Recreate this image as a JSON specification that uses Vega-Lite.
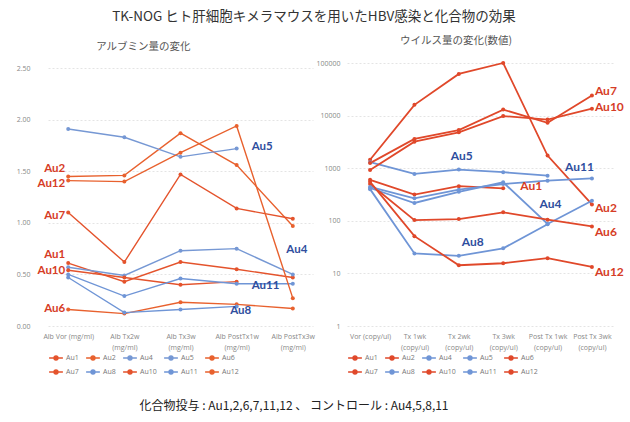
{
  "$schema": "https://vega.github.io/schema/vega-lite/v6.json",
  "background": "white",
  "padding": {"left": 16, "top": 10, "right": 4, "bottom": 2},
  "title": {"text": "TK-NOG ヒト肝細胞キメラマウスを用いたHBV感染と化合物の効果", "font": "Noto Sans CJK JP", "fontSize": 13.5, "fontWeight": "normal", "color": "#333333", "anchor": "middle", "offset": 12, "dx": -6},
  "config": {
    "view": {"stroke": null},
    "font": "Noto Sans CJK JP",
    "axis": {"labelFont": "Open Sans", "labelFontSize": 7, "labelColor": "#888888", "ticks": false, "domain": false, "title": null},
    "axisY": {"grid": true, "gridColor": "#e4e4e4", "gridDash": [2, 2], "labelPadding": 18},
    "axisX": {"grid": false, "labelAngle": 0, "labelPadding": 6, "labelLineHeight": 11},
    "legend": {"orient": "bottom", "direction": "horizontal", "columns": 5, "title": null, "labelFont": "Open Sans", "labelFontSize": 7, "labelColor": "#777777", "labelOffset": 2, "symbolType": "M-1,0L1,0M-0.28,0a0.28,0.28 0 1,0 0.56,0a0.28,0.28 0 1,0 -0.56,0", "symbolSize": 190, "symbolStrokeWidth": 1.5, "columnPadding": 4, "rowPadding": 1, "offset": 0}
  },
  "datasets": {
    "alb": [
      {"m": "Au1", "t": "Alb Vor (mg/ml)", "v": 0.61}, {"m": "Au1", "t": "Alb Tx2w (mg/ml)", "v": 0.43}, {"m": "Au1", "t": "Alb Tx3w (mg/ml)", "v": 0.62}, {"m": "Au1", "t": "Alb PostTx1w (mg/ml)", "v": 0.55}, {"m": "Au1", "t": "Alb PostTx3w (mg/ml)", "v": 0.47},
      {"m": "Au2", "t": "Alb Vor (mg/ml)", "v": 1.45}, {"m": "Au2", "t": "Alb Tx2w (mg/ml)", "v": 1.46}, {"m": "Au2", "t": "Alb Tx3w (mg/ml)", "v": 1.87}, {"m": "Au2", "t": "Alb PostTx1w (mg/ml)", "v": 1.56}, {"m": "Au2", "t": "Alb PostTx3w (mg/ml)", "v": 0.97},
      {"m": "Au4", "t": "Alb Vor (mg/ml)", "v": 0.57}, {"m": "Au4", "t": "Alb Tx2w (mg/ml)", "v": 0.49}, {"m": "Au4", "t": "Alb Tx3w (mg/ml)", "v": 0.73}, {"m": "Au4", "t": "Alb PostTx1w (mg/ml)", "v": 0.75}, {"m": "Au4", "t": "Alb PostTx3w (mg/ml)", "v": 0.50},
      {"m": "Au5", "t": "Alb Vor (mg/ml)", "v": 1.91}, {"m": "Au5", "t": "Alb Tx2w (mg/ml)", "v": 1.83}, {"m": "Au5", "t": "Alb Tx3w (mg/ml)", "v": 1.64}, {"m": "Au5", "t": "Alb PostTx1w (mg/ml)", "v": 1.72},
      {"m": "Au6", "t": "Alb Vor (mg/ml)", "v": 0.16}, {"m": "Au6", "t": "Alb Tx2w (mg/ml)", "v": 0.12}, {"m": "Au6", "t": "Alb Tx3w (mg/ml)", "v": 0.23}, {"m": "Au6", "t": "Alb PostTx1w (mg/ml)", "v": 0.21}, {"m": "Au6", "t": "Alb PostTx3w (mg/ml)", "v": 0.17},
      {"m": "Au7", "t": "Alb Vor (mg/ml)", "v": 1.10}, {"m": "Au7", "t": "Alb Tx2w (mg/ml)", "v": 0.62}, {"m": "Au7", "t": "Alb Tx3w (mg/ml)", "v": 1.47}, {"m": "Au7", "t": "Alb PostTx1w (mg/ml)", "v": 1.14}, {"m": "Au7", "t": "Alb PostTx3w (mg/ml)", "v": 1.04},
      {"m": "Au8", "t": "Alb Vor (mg/ml)", "v": 0.47}, {"m": "Au8", "t": "Alb Tx2w (mg/ml)", "v": 0.13}, {"m": "Au8", "t": "Alb Tx3w (mg/ml)", "v": 0.16}, {"m": "Au8", "t": "Alb PostTx1w (mg/ml)", "v": 0.19},
      {"m": "Au10", "t": "Alb Vor (mg/ml)", "v": 0.54}, {"m": "Au10", "t": "Alb Tx2w (mg/ml)", "v": 0.47}, {"m": "Au10", "t": "Alb Tx3w (mg/ml)", "v": 0.40}, {"m": "Au10", "t": "Alb PostTx1w (mg/ml)", "v": 0.43},
      {"m": "Au11", "t": "Alb Vor (mg/ml)", "v": 0.50}, {"m": "Au11", "t": "Alb Tx2w (mg/ml)", "v": 0.29}, {"m": "Au11", "t": "Alb Tx3w (mg/ml)", "v": 0.46}, {"m": "Au11", "t": "Alb PostTx1w (mg/ml)", "v": 0.41}, {"m": "Au11", "t": "Alb PostTx3w (mg/ml)", "v": 0.41},
      {"m": "Au12", "t": "Alb Vor (mg/ml)", "v": 1.41}, {"m": "Au12", "t": "Alb Tx2w (mg/ml)", "v": 1.40}, {"m": "Au12", "t": "Alb Tx3w (mg/ml)", "v": 1.68}, {"m": "Au12", "t": "Alb PostTx1w (mg/ml)", "v": 1.94}, {"m": "Au12", "t": "Alb PostTx3w (mg/ml)", "v": 0.27}
    ],
    "hbv": [
      {"m": "Au1", "t": "Vor (copy/ul)", "v": 600}, {"m": "Au1", "t": "Tx 1wk (copy/ul)", "v": 315}, {"m": "Au1", "t": "Tx 2wk (copy/ul)", "v": 455}, {"m": "Au1", "t": "Tx 3wk (copy/ul)", "v": 415},
      {"m": "Au2", "t": "Vor (copy/ul)", "v": 1450}, {"m": "Au2", "t": "Tx 1wk (copy/ul)", "v": 16000}, {"m": "Au2", "t": "Tx 2wk (copy/ul)", "v": 62000}, {"m": "Au2", "t": "Tx 3wk (copy/ul)", "v": 100000}, {"m": "Au2", "t": "Post Tx 1wk (copy/ul)", "v": 1740}, {"m": "Au2", "t": "Post Tx 3wk (copy/ul)", "v": 205},
      {"m": "Au4", "t": "Vor (copy/ul)", "v": 420}, {"m": "Au4", "t": "Tx 1wk (copy/ul)", "v": 218}, {"m": "Au4", "t": "Tx 2wk (copy/ul)", "v": 355}, {"m": "Au4", "t": "Tx 3wk (copy/ul)", "v": 540}, {"m": "Au4", "t": "Post Tx 1wk (copy/ul)", "v": 87}, {"m": "Au4", "t": "Post Tx 3wk (copy/ul)", "v": 240},
      {"m": "Au5", "t": "Vor (copy/ul)", "v": 1300}, {"m": "Au5", "t": "Tx 1wk (copy/ul)", "v": 780}, {"m": "Au5", "t": "Tx 2wk (copy/ul)", "v": 940}, {"m": "Au5", "t": "Tx 3wk (copy/ul)", "v": 840}, {"m": "Au5", "t": "Post Tx 1wk (copy/ul)", "v": 720},
      {"m": "Au6", "t": "Vor (copy/ul)", "v": 500}, {"m": "Au6", "t": "Tx 1wk (copy/ul)", "v": 103}, {"m": "Au6", "t": "Tx 2wk (copy/ul)", "v": 108}, {"m": "Au6", "t": "Tx 3wk (copy/ul)", "v": 145}, {"m": "Au6", "t": "Post Tx 1wk (copy/ul)", "v": 105}, {"m": "Au6", "t": "Post Tx 3wk (copy/ul)", "v": 78},
      {"m": "Au7", "t": "Vor (copy/ul)", "v": 1250}, {"m": "Au7", "t": "Tx 1wk (copy/ul)", "v": 3600}, {"m": "Au7", "t": "Tx 2wk (copy/ul)", "v": 5300}, {"m": "Au7", "t": "Tx 3wk (copy/ul)", "v": 13000}, {"m": "Au7", "t": "Post Tx 1wk (copy/ul)", "v": 7300}, {"m": "Au7", "t": "Post Tx 3wk (copy/ul)", "v": 24000},
      {"m": "Au8", "t": "Vor (copy/ul)", "v": 400}, {"m": "Au8", "t": "Tx 1wk (copy/ul)", "v": 24}, {"m": "Au8", "t": "Tx 2wk (copy/ul)", "v": 21.6}, {"m": "Au8", "t": "Tx 3wk (copy/ul)", "v": 30}, {"m": "Au8", "t": "Post Tx 1wk (copy/ul)", "v": 86},
      {"m": "Au10", "t": "Vor (copy/ul)", "v": 920}, {"m": "Au10", "t": "Tx 1wk (copy/ul)", "v": 3200}, {"m": "Au10", "t": "Tx 2wk (copy/ul)", "v": 4800}, {"m": "Au10", "t": "Tx 3wk (copy/ul)", "v": 9800}, {"m": "Au10", "t": "Post Tx 1wk (copy/ul)", "v": 8400}, {"m": "Au10", "t": "Post Tx 3wk (copy/ul)", "v": 13500},
      {"m": "Au11", "t": "Vor (copy/ul)", "v": 440}, {"m": "Au11", "t": "Tx 1wk (copy/ul)", "v": 268}, {"m": "Au11", "t": "Tx 2wk (copy/ul)", "v": 390}, {"m": "Au11", "t": "Tx 3wk (copy/ul)", "v": 500}, {"m": "Au11", "t": "Post Tx 1wk (copy/ul)", "v": 580}, {"m": "Au11", "t": "Post Tx 3wk (copy/ul)", "v": 640},
      {"m": "Au12", "t": "Vor (copy/ul)", "v": 550}, {"m": "Au12", "t": "Tx 1wk (copy/ul)", "v": 51}, {"m": "Au12", "t": "Tx 2wk (copy/ul)", "v": 14.3}, {"m": "Au12", "t": "Tx 3wk (copy/ul)", "v": 15.6}, {"m": "Au12", "t": "Post Tx 1wk (copy/ul)", "v": 19.5}, {"m": "Au12", "t": "Post Tx 3wk (copy/ul)", "v": 13.3}
    ],
    "albLabels": [
      {"m": "Au2", "t": "Alb Vor (mg/ml)", "v": 1.52},
      {"m": "Au12", "t": "Alb Vor (mg/ml)", "v": 1.38},
      {"m": "Au7", "t": "Alb Vor (mg/ml)", "v": 1.07},
      {"m": "Au1", "t": "Alb Vor (mg/ml)", "v": 0.69},
      {"m": "Au10", "t": "Alb Vor (mg/ml)", "v": 0.53},
      {"m": "Au6", "t": "Alb Vor (mg/ml)", "v": 0.16},
      {"m": "Au5", "t": "Alb PostTx1w (mg/ml)", "v": 1.74},
      {"m": "Au11", "t": "Alb PostTx1w (mg/ml)", "v": 0.39},
      {"m": "Au8", "t": "Alb PostTx1w (mg/ml)", "v": 0.15},
      {"m": "Au4", "t": "Alb PostTx3w (mg/ml)", "v": 0.74}
    ],
    "hbvLabels": [
      {"m": "Au7", "t": "Post Tx 3wk (copy/ul)", "v": 29500},
      {"m": "Au10", "t": "Post Tx 3wk (copy/ul)", "v": 14500},
      {"m": "Au2", "t": "Post Tx 3wk (copy/ul)", "v": 175},
      {"m": "Au6", "t": "Post Tx 3wk (copy/ul)", "v": 61},
      {"m": "Au12", "t": "Post Tx 3wk (copy/ul)", "v": 10.7},
      {"m": "Au1", "t": "Tx 3wk (copy/ul)", "v": 465},
      {"m": "Au5", "t": "Tx 2wk (copy/ul)", "v": 1740},
      {"m": "Au8", "t": "Tx 2wk (copy/ul)", "v": 40},
      {"m": "Au4", "t": "Post Tx 1wk (copy/ul)", "v": 208},
      {"m": "Au11", "t": "Post Tx 3wk (copy/ul)", "v": 1050}
    ],
    "note": [{"text": "化合物投与 : Au1,2,6,7,11,12 、 コントロール : Au4,5,8,11"}]
  },
  "vconcat": [
    {
      "hconcat": [
        {
          "width": 265,
          "height": 263,
          "title": {"text": "アルブミン量の変化", "anchor": "start", "dx": 80, "fontSize": 10.5, "fontWeight": "normal", "color": "#555555", "offset": 11},
          "encoding": {
            "x": {"field": "t", "type": "nominal", "scale": {"type": "point", "padding": 0.36, "domain": ["Alb Vor (mg/ml)", "Alb Tx2w (mg/ml)", "Alb Tx3w (mg/ml)", "Alb PostTx1w (mg/ml)", "Alb PostTx3w (mg/ml)"]},
              "axis": {"labelExpr": "datum.value == 'Alb Vor (mg/ml)' ? datum.value : [slice(datum.value, 0, indexof(datum.value, ' (')), slice(datum.value, indexof(datum.value, ' (') + 1)]"}},
            "y": {"field": "v", "type": "quantitative", "scale": {"domain": [0, 2.55], "nice": false, "zero": true}, "axis": {"values": [0, 0.5, 1, 1.5, 2, 2.5], "format": ".2f"}}
          },
          "layer": [
            {"data": {"name": "alb"}, "mark": {"type": "line", "strokeWidth": 1.4},
              "encoding": {"color": {"field": "m", "type": "nominal", "scale": {"domain": ["Au1", "Au2", "Au4", "Au5", "Au6", "Au7", "Au8", "Au10", "Au11", "Au12"], "range": ["#e4532c", "#e8612e", "#7698d4", "#7698d4", "#e8612e", "#e4532c", "#6f95d6", "#e4532c", "#6f95d6", "#e8612e"]}}}},
            {"data": {"name": "alb"}, "mark": {"type": "point", "filled": true, "size": 16, "opacity": 1},
              "encoding": {"color": {"field": "m", "type": "nominal"}}},
            {"data": {"name": "albLabels"}, "transform": [{"filter": "indexof(['Au1','Au2','Au6','Au7','Au10','Au12'], datum.m) >= 0"}],
              "mark": {"type": "text", "align": "right", "dx": -3, "font": "Lato", "fontWeight": "bold", "fontSize": 11.5, "color": "#d63c26"},
              "encoding": {"text": {"field": "m"}}},
            {"data": {"name": "albLabels"}, "transform": [{"filter": "datum.m == 'Au5' || datum.m == 'Au11'"}],
              "mark": {"type": "text", "align": "left", "dx": 15, "font": "Lato", "fontWeight": "bold", "fontSize": 11.5, "color": "#2f4e9e"},
              "encoding": {"text": {"field": "m"}}},
            {"data": {"name": "albLabels"}, "transform": [{"filter": "datum.m == 'Au8' || datum.m == 'Au4'"}],
              "mark": {"type": "text", "align": "center", "dx": 4, "font": "Lato", "fontWeight": "bold", "fontSize": 11.5, "color": "#2f4e9e"},
              "encoding": {"text": {"field": "m"}}}
          ]
        },
        {
          "width": 268,
          "height": 263,
          "title": {"text": "ウイルス量の変化(数値)", "anchor": "start", "dx": 84, "fontSize": 10.5, "fontWeight": "normal", "color": "#555555", "offset": 13},
          "encoding": {
            "x": {"field": "t", "type": "nominal", "scale": {"type": "point", "padding": 0.52, "domain": ["Vor (copy/ul)", "Tx 1wk (copy/ul)", "Tx 2wk (copy/ul)", "Tx 3wk (copy/ul)", "Post Tx 1wk (copy/ul)", "Post Tx 3wk (copy/ul)"]},
              "axis": {"labelExpr": "datum.value == 'Vor (copy/ul)' ? datum.value : [slice(datum.value, 0, indexof(datum.value, ' (')), slice(datum.value, indexof(datum.value, ' (') + 1)]"}},
            "y": {"field": "v", "type": "quantitative", "scale": {"type": "log", "domain": [1, 100000], "nice": false}, "axis": {"values": [1, 10, 100, 1000, 10000, 100000], "format": "d", "labelPadding": 7}}
          },
          "layer": [
            {"data": {"name": "hbv"}, "mark": {"type": "line", "strokeWidth": 1.8},
              "encoding": {"color": {"field": "m", "type": "nominal", "scale": {"domain": ["Au1", "Au2", "Au4", "Au5", "Au6", "Au7", "Au8", "Au10", "Au11", "Au12"], "range": ["#e0482a", "#e0482a", "#6f95d6", "#6f95d6", "#e0482a", "#e0482a", "#6f95d6", "#e0482a", "#6f95d6", "#e0482a"]}}}},
            {"data": {"name": "hbv"}, "mark": {"type": "point", "filled": true, "size": 16, "opacity": 1},
              "encoding": {"color": {"field": "m", "type": "nominal"}}},
            {"data": {"name": "hbvLabels"}, "transform": [{"filter": "indexof(['Au7','Au10','Au2','Au6','Au12'], datum.m) >= 0"}],
              "mark": {"type": "text", "align": "left", "dx": 3, "font": "Lato", "fontWeight": "bold", "fontSize": 12, "color": "#d63c26"},
              "encoding": {"text": {"field": "m"}}},
            {"data": {"name": "hbvLabels"}, "transform": [{"filter": "datum.m == 'Au1'"}],
              "mark": {"type": "text", "align": "left", "dx": 17, "font": "Lato", "fontWeight": "bold", "fontSize": 12, "color": "#d63c26"},
              "encoding": {"text": {"field": "m"}}},
            {"data": {"name": "hbvLabels"}, "transform": [{"filter": "datum.m == 'Au5' || datum.m == 'Au4'"}],
              "mark": {"type": "text", "align": "center", "dx": 3, "font": "Lato", "fontWeight": "bold", "fontSize": 12, "color": "#2f4e9e"},
              "encoding": {"text": {"field": "m"}}},
            {"data": {"name": "hbvLabels"}, "transform": [{"filter": "datum.m == 'Au8'"}],
              "mark": {"type": "text", "align": "center", "dx": 14, "font": "Lato", "fontWeight": "bold", "fontSize": 12, "color": "#2f4e9e"},
              "encoding": {"text": {"field": "m"}}},
            {"data": {"name": "hbvLabels"}, "transform": [{"filter": "datum.m == 'Au11'"}],
              "mark": {"type": "text", "align": "right", "dx": 2, "font": "Lato", "fontWeight": "bold", "fontSize": 12, "color": "#2f4e9e"},
              "encoding": {"text": {"field": "m"}}}
          ]
        }
      ],
      "spacing": 0,
      "resolve": {"scale": {"color": "independent"}, "legend": {"color": "independent"}}
    },
    {
      "width": 492,
      "height": 22,
      "data": {"name": "note"},
      "mark": {"type": "text", "font": "Noto Sans CJK JP", "fontSize": 12, "color": "#222222", "baseline": "middle"},
      "encoding": {"text": {"field": "text"}}
    }
  ],
  "spacing": 18
}
